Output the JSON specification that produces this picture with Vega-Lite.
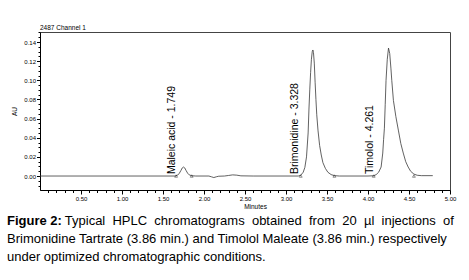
{
  "$schema": "https://vega.github.io/schema/vega-lite/v6.json",
  "autosize": "none",
  "width": 410,
  "height": 158,
  "padding": {"left": 40, "top": 32, "right": 19, "bottom": 90},
  "background": "#ffffff",
  "datasets": {
    "trace": [
      {"t": 0, "au": 0}, {"t": 0.5, "au": 0}, {"t": 1.0, "au": 0}, {"t": 1.5, "au": 0}, {"t": 1.65, "au": 0},
      {"t": 1.68, "au": 0.001}, {"t": 1.70, "au": 0.003}, {"t": 1.72, "au": 0.006}, {"t": 1.735, "au": 0.0085},
      {"t": 1.749, "au": 0.0094}, {"t": 1.765, "au": 0.0085}, {"t": 1.78, "au": 0.006}, {"t": 1.80, "au": 0.003},
      {"t": 1.82, "au": 0.0012}, {"t": 1.85, "au": 0.0003}, {"t": 1.90, "au": 0}, {"t": 2.06, "au": 0},
      {"t": 2.09, "au": -0.0008}, {"t": 2.12, "au": -0.0016}, {"t": 2.15, "au": -0.0008}, {"t": 2.18, "au": -0.0002},
      {"t": 2.25, "au": 0}, {"t": 2.30, "au": 0.0006}, {"t": 2.35, "au": 0.0012}, {"t": 2.40, "au": 0.0009},
      {"t": 2.45, "au": 0.0002}, {"t": 2.60, "au": 0}, {"t": 3.0, "au": 0}, {"t": 3.15, "au": 0},
      {"t": 3.18, "au": 0.0008}, {"t": 3.21, "au": 0.004}, {"t": 3.23, "au": 0.009}, {"t": 3.25, "au": 0.02},
      {"t": 3.27, "au": 0.045}, {"t": 3.28, "au": 0.07}, {"t": 3.29, "au": 0.09}, {"t": 3.30, "au": 0.108},
      {"t": 3.31, "au": 0.122}, {"t": 3.32, "au": 0.130}, {"t": 3.328, "au": 0.1317}, {"t": 3.335, "au": 0.129},
      {"t": 3.345, "au": 0.118}, {"t": 3.355, "au": 0.098}, {"t": 3.365, "au": 0.08}, {"t": 3.375, "au": 0.064},
      {"t": 3.39, "au": 0.048}, {"t": 3.41, "au": 0.032}, {"t": 3.43, "au": 0.022}, {"t": 3.45, "au": 0.014},
      {"t": 3.48, "au": 0.008}, {"t": 3.51, "au": 0.004}, {"t": 3.55, "au": 0.0015}, {"t": 3.59, "au": 0.0004},
      {"t": 3.65, "au": 0}, {"t": 4.0, "au": 0}, {"t": 4.07, "au": 0.0003}, {"t": 4.10, "au": 0.0015},
      {"t": 4.13, "au": 0.004}, {"t": 4.16, "au": 0.0094}, {"t": 4.18, "au": 0.024}, {"t": 4.19, "au": 0.038},
      {"t": 4.20, "au": 0.05}, {"t": 4.21, "au": 0.075}, {"t": 4.22, "au": 0.1}, {"t": 4.235, "au": 0.122},
      {"t": 4.25, "au": 0.1337}, {"t": 4.265, "au": 0.128}, {"t": 4.28, "au": 0.112}, {"t": 4.29, "au": 0.1},
      {"t": 4.31, "au": 0.079}, {"t": 4.34, "au": 0.062}, {"t": 4.37, "au": 0.048}, {"t": 4.40, "au": 0.034},
      {"t": 4.43, "au": 0.024}, {"t": 4.46, "au": 0.015}, {"t": 4.49, "au": 0.0094}, {"t": 4.52, "au": 0.005},
      {"t": 4.56, "au": 0.002}, {"t": 4.60, "au": 0.0008}, {"t": 4.65, "au": 0.0004}, {"t": 4.79, "au": 0.0004}
    ],
    "markers": [
      {"t": 1.66, "au": 0}, {"t": 1.85, "au": 0}, {"t": 3.18, "au": 0},
      {"t": 3.59, "au": 0}, {"t": 4.07, "au": 0}, {"t": 4.56, "au": 0}
    ],
    "labels": [
      {"t": 1.61, "au": 0.002, "label": "Maleic acid - 1.749"},
      {"t": 3.11, "au": 0.002, "label": "Brimonidine - 3.328"},
      {"t": 4.02, "au": 0.002, "label": "Timolol - 4.261"}
    ],
    "channel": [
      {"t": 0, "au": 0.1505, "label": "2487 Channel 1"}
    ]
  },
  "title": {
    "text": "Figure 2:",
    "subtitle": [
      "\u200b\u00a0\u00a0\u00a0\u00a0\u00a0\u00a0\u00a0\u00a0\u00a0\u00a0\u00a0\u00a0\u00a0\u00a0\u00a0\u00a0Typical \u00a0HPLC \u00a0chromatograms \u00a0obtained \u00a0from \u00a020 \u00a0µl \u00a0injections \u00a0of",
      "Brimonidine Tartrate (3.86 min.) and Timolol Maleate (3.86 min.) respectively",
      "under optimized chromatographic conditions."
    ],
    "orient": "bottom",
    "anchor": "start",
    "frame": "group",
    "dx": -33,
    "offset": 5,
    "font": "Liberation Sans",
    "fontSize": 13,
    "fontWeight": "bold",
    "color": "#000000",
    "subtitleFont": "Liberation Sans",
    "subtitleFontSize": 13,
    "subtitleColor": "#000000",
    "subtitleLineHeight": 18,
    "subtitlePadding": -13
  },
  "encoding": {
    "x": {
      "field": "t",
      "type": "quantitative",
      "scale": {"domain": [0, 5], "nice": false, "zero": false},
      "axis": {
        "title": "Minutes",
        "values": [0.1,0.2,0.3,0.4,0.5,0.6,0.7,0.8,0.9,1.0,1.1,1.2,1.3,1.4,1.5,1.6,1.7,1.8,1.9,2.0,2.1,2.2,2.3,2.4,2.5,2.6,2.7,2.8,2.9,3.0,3.1,3.2,3.3,3.4,3.5,3.6,3.7,3.8,3.9,4.0,4.1,4.2,4.3,4.4,4.5,4.6,4.7,4.8,4.9,5.0],
        "format": ".2f",
        "labelExpr": "round(datum.value*10) % 5 == 0 ? datum.label : ''",
        "tickSize": {"condition": {"test": "round(datum.value*10) % 5 == 0", "value": 4}, "value": 2.5},
        "labelFlush": false,
        "labelOverlap": false,
        "labelPadding": 1,
        "titleX": 215,
        "titlePadding": 2
      }
    },
    "y": {
      "field": "au",
      "type": "quantitative",
      "scale": {"domain": [-0.0146, 0.1505], "nice": false, "zero": false},
      "axis": {
        "title": "AU",
        "values": [-0.01,-0.005,0,0.005,0.01,0.015,0.02,0.025,0.03,0.035,0.04,0.045,0.05,0.055,0.06,0.065,0.07,0.075,0.08,0.085,0.09,0.095,0.1,0.105,0.11,0.115,0.12,0.125,0.13,0.135,0.14,0.145,0.15],
        "format": ".2f",
        "labelExpr": "round(datum.value*1000) % 20 == 0 ? datum.label : ''",
        "tickSize": {"condition": {"test": "round(datum.value*1000) % 20 == 0", "value": 3.5}, "value": 2},
        "labelOverlap": false,
        "labelPadding": 1,
        "titlePadding": 6
      }
    }
  },
  "layer": [
    {
      "data": {"name": "trace"},
      "mark": {"type": "line", "color": "#3a3a3a", "strokeWidth": 0.8, "interpolate": "linear"}
    },
    {
      "data": {"name": "markers"},
      "mark": {"type": "point", "shape": "triangle-up", "size": 8, "filled": false, "stroke": "#000", "strokeWidth": 0.6}
    },
    {
      "data": {"name": "labels"},
      "mark": {"type": "text", "angle": 270, "align": "left", "baseline": "middle", "font": "Liberation Sans", "fontSize": 10.5, "color": "#000"},
      "encoding": {"text": {"field": "label"}}
    },
    {
      "data": {"name": "channel"},
      "mark": {"type": "text", "align": "left", "baseline": "bottom", "dy": -1, "font": "Liberation Sans", "fontSize": 6.5, "color": "#000"},
      "encoding": {"text": {"field": "label"}}
    }
  ],
  "config": {
    "view": {"stroke": "#444", "strokeWidth": 1},
    "axis": {
      "grid": false,
      "domainColor": "#000",
      "tickColor": "#000",
      "labelColor": "#000",
      "labelFont": "Liberation Sans",
      "labelFontSize": 6,
      "titleFont": "Liberation Sans",
      "titleFontSize": 6.5,
      "titleFontWeight": "normal",
      "titleColor": "#000"
    }
  }
}
